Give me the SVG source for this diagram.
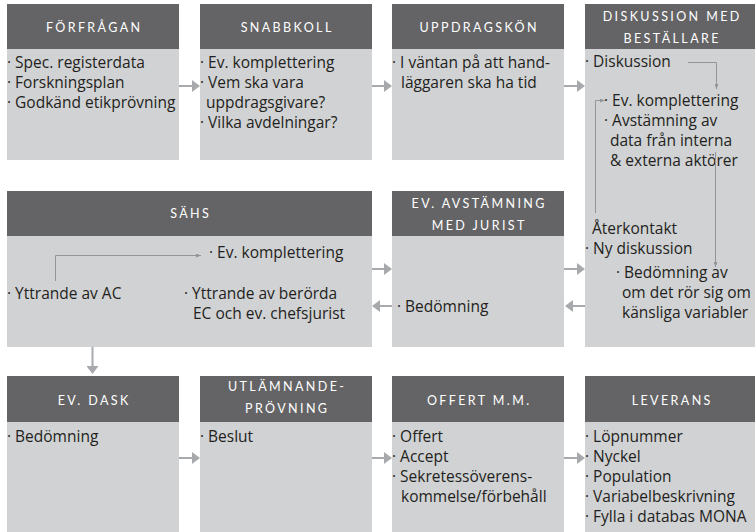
<svg xmlns="http://www.w3.org/2000/svg" width="755" height="532" viewBox="0 0 755 532">
<defs>
<style>
.hd{fill:#646466}
.bd{fill:#d1d2d4}
.ht{font-family:Lato,"Open Sans",sans-serif;font-size:12.5px;fill:#ffffff;letter-spacing:2.4px;text-anchor:middle}
.t{font-family:"Open Sans",Lato,sans-serif;font-size:15.5px;fill:#231f20}
.ar{stroke:#a7a9ac;stroke-width:2;fill:none}
.ln{stroke:#939598;stroke-width:1;fill:none}
</style>
<marker id="ah" viewBox="0 0 8 12" refX="4" refY="6" markerWidth="8" markerHeight="12" markerUnits="userSpaceOnUse" orient="auto">
<path d="M0,0 L8,6 L0,12 Z" fill="#a7a9ac"/>
</marker>
<marker id="sm" viewBox="0 0 5 4" refX="5" refY="2" markerWidth="5" markerHeight="4" markerUnits="userSpaceOnUse" orient="auto">
<path d="M0,0 L5,2 L0,4 Z" fill="#939598"/>
</marker>
</defs>
<rect width="755" height="532" fill="#ffffff"/>

<g id="forfragan">
<rect class="hd" x="7" y="4" width="172" height="45"/>
<rect class="bd" x="7" y="49" width="172" height="111"/>
<text class="ht" x="94.2" y="32">FÖRFRÅGAN</text>
<text class="t" x="7" y="68">· Spec. registerdata</text>
<text class="t" x="7" y="88">· Forskningsplan</text>
<text class="t" x="7" y="108">· Godkänd etikprövning</text>
</g>

<g id="snabbkoll">
<rect class="hd" x="200" y="4" width="172" height="45"/>
<rect class="bd" x="200" y="49" width="172" height="111"/>
<text class="ht" x="287.2" y="32">SNABBKOLL</text>
<text class="t" x="200" y="68">· Ev. komplettering</text>
<text class="t" x="200" y="88">· Vem ska vara</text>
<text class="t" x="206" y="108">uppdragsgivare?</text>
<text class="t" x="200" y="128">· Vilka avdelningar?</text>
</g>

<g id="uppdragskon">
<rect class="hd" x="392" y="4" width="172" height="45"/>
<rect class="bd" x="392" y="49" width="172" height="111"/>
<text class="ht" x="479.2" y="32">UPPDRAGSKÖN</text>
<text class="t" x="392" y="68">· I väntan på att hand-</text>
<text class="t" x="401" y="88">läggaren ska ha tid</text>
</g>

<g id="diskussion">
<rect class="hd" x="585" y="4" width="172" height="45"/>
<rect class="bd" x="585" y="49" width="172" height="298"/>
<text class="ht" x="672.2" y="21">DISKUSSION MED</text>
<text class="ht" x="672.2" y="43">BESTÄLLARE</text>
<text class="t" x="585" y="67">· Diskussion</text>
<text class="t" x="604" y="106">· Ev. komplettering</text>
<text class="t" x="604" y="126">· Avstämning av</text>
<text class="t" x="610" y="146">data från interna</text>
<text class="t" x="610" y="166">&amp; externa aktörer</text>
<text class="t" x="592" y="234">Återkontakt</text>
<text class="t" x="585" y="254">· Ny diskussion</text>
<text class="t" x="616" y="278">· Bedömning av</text>
<text class="t" x="622" y="298">om det rör sig om</text>
<text class="t" x="622" y="318">känsliga variabler</text>
</g>

<g id="sahs">
<rect class="hd" x="7" y="191" width="365" height="45"/>
<rect class="bd" x="7" y="236" width="365" height="111"/>
<text class="ht" x="190.7" y="218">SÄHS</text>
<text class="t" x="209" y="258">· Ev. komplettering</text>
<text class="t" x="7" y="299">· Yttrande av AC</text>
<text class="t" x="184" y="299">· Yttrande av berörda</text>
<text class="t" x="193" y="319">EC och ev. chefsjurist</text>
</g>

<g id="avstamning">
<rect class="hd" x="392" y="191" width="172" height="45"/>
<rect class="bd" x="392" y="236" width="172" height="111"/>
<text class="ht" x="479.2" y="208">EV. AVSTÄMNING</text>
<text class="ht" x="479.2" y="230">MED JURIST</text>
<text class="t" x="397" y="312">· Bedömning</text>
</g>

<g id="dask">
<rect class="hd" x="7" y="376" width="172" height="46"/>
<rect class="bd" x="7" y="422" width="172" height="110"/>
<text class="ht" x="94.2" y="405">EV. DASK</text>
<text class="t" x="7" y="442">· Bedömning</text>
</g>

<g id="utlamnande">
<rect class="hd" x="200" y="376" width="172" height="46"/>
<rect class="bd" x="200" y="422" width="172" height="110"/>
<text class="ht" x="287.2" y="391">UTLÄMNANDE-</text>
<text class="ht" x="287.2" y="413">PRÖVNING</text>
<text class="t" x="200" y="442">· Beslut</text>
</g>

<g id="offert">
<rect class="hd" x="392" y="376" width="172" height="46"/>
<rect class="bd" x="392" y="422" width="172" height="110"/>
<text class="ht" x="479.2" y="405">OFFERT M.M.</text>
<text class="t" x="392" y="442">· Offert</text>
<text class="t" x="392" y="462">· Accept</text>
<text class="t" x="392" y="482">· Sekretessöverens-</text>
<text class="t" x="401" y="502">kommelse/förbehåll</text>
</g>

<g id="leverans">
<rect class="hd" x="585" y="376" width="172" height="46"/>
<rect class="bd" x="585" y="422" width="172" height="110"/>
<text class="ht" x="672.2" y="405">LEVERANS</text>
<text class="t" x="585" y="442">· Löpnummer</text>
<text class="t" x="585" y="462">· Nyckel</text>
<text class="t" x="585" y="482">· Population</text>
<text class="t" x="585" y="502">· Variabelbeskrivning</text>
<text class="t" x="585" y="522">· Fylla i databas MONA</text>
</g>

<g id="connectors">
<line class="ar" x1="179" y1="86" x2="196" y2="86" marker-end="url(#ah)"/>
<line class="ar" x1="372" y1="86" x2="388" y2="86" marker-end="url(#ah)"/>
<line class="ar" x1="564" y1="86" x2="581" y2="86" marker-end="url(#ah)"/>
<line class="ar" x1="372" y1="269" x2="388" y2="269" marker-end="url(#ah)"/>
<line class="ar" x1="564" y1="269" x2="581" y2="269" marker-end="url(#ah)"/>
<line class="ar" x1="392" y1="306" x2="376" y2="306" marker-end="url(#ah)"/>
<line class="ar" x1="585" y1="306" x2="569" y2="306" marker-end="url(#ah)"/>
<line class="ar" x1="92.5" y1="347" x2="92.5" y2="370" marker-end="url(#ah)"/>
<line class="ar" x1="179" y1="458" x2="196" y2="458" marker-end="url(#ah)"/>
<line class="ar" x1="372" y1="458" x2="388" y2="458" marker-end="url(#ah)"/>
<line class="ar" x1="564" y1="458" x2="581" y2="458" marker-end="url(#ah)"/>
<polyline class="ln" points="688,62.5 716.5,62.5 716.5,89" marker-end="url(#sm)"/>
<polyline class="ln" points="595.5,213 595.5,100.5 605,100.5" marker-end="url(#sm)"/>
<line class="ln" x1="715.5" y1="152" x2="715.5" y2="267" marker-end="url(#sm)"/>
<polyline class="ln" points="55.5,281 55.5,255.5 201,255.5" marker-end="url(#sm)"/>
</g>
</svg>
